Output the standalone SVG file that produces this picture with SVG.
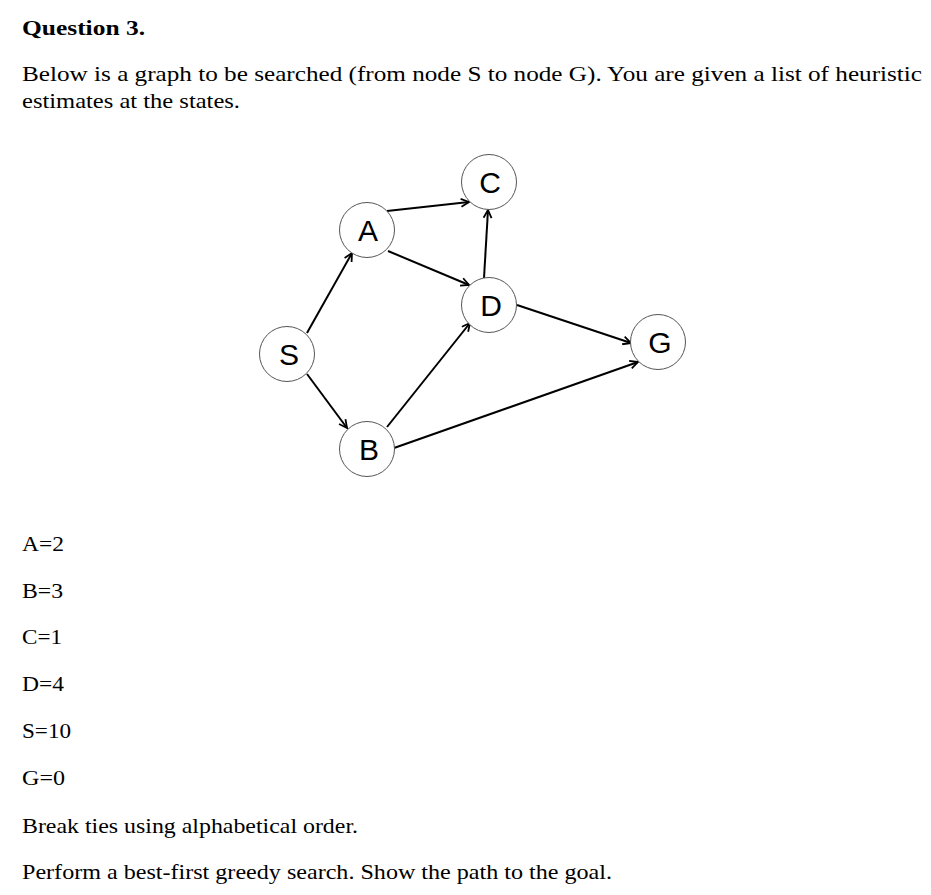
<svg xmlns="http://www.w3.org/2000/svg" width="931" height="895" viewBox="0 0 931 895">
<style>
.t{font-family:"Liberation Serif","Times New Roman",serif;font-size:21px;fill:#000}
.b{font-weight:bold}
.node circle{fill:#fff;stroke:#555;stroke-width:1}
.node text{font-family:"Liberation Sans",Arial,sans-serif;font-size:30px;fill:#000;text-anchor:middle}
.edge{stroke:#000;stroke-width:2;fill:none;marker-end:url(#arr)}
</style>
<defs>
<marker id="arr" viewBox="0 0 10 10" refX="9" refY="5" markerWidth="5" markerHeight="5" markerUnits="strokeWidth" orient="auto">
<path d="M1,1 L9,5 L1,9" fill="none" stroke="#000" stroke-width="1.8"/>
</marker>
</defs>
<rect width="931" height="895" fill="#fff"/>
<text class="t b" x="22" y="35" textLength="123" lengthAdjust="spacingAndGlyphs">Question 3.</text>
<text class="t" x="22" y="81" textLength="900" lengthAdjust="spacingAndGlyphs">Below is a graph to be searched (from node S to node G). You are given a list of heuristic</text>
<text class="t" x="22" y="108" textLength="218" lengthAdjust="spacingAndGlyphs">estimates at the states.</text>
<g id="connectors">
<line class="edge" x1="387" y1="211" x2="469" y2="202"/>
<line class="edge" x1="388" y1="251" x2="469" y2="285"/>
<line class="edge" x1="484" y1="278" x2="488" y2="210"/>
<line class="edge" x1="307" y1="333" x2="352" y2="253"/>
<line class="edge" x1="307" y1="374" x2="347" y2="428"/>
<line class="edge" x1="387" y1="427" x2="470" y2="323"/>
<line class="edge" x1="517" y1="305" x2="631" y2="343"/>
<line class="edge" x1="394" y1="448" x2="638" y2="362"/>
</g>
<g id="node-C" class="node"><circle cx="489" cy="182" r="27.5"/><text x="490" y="193">C</text></g>
<g id="node-A" class="node"><circle cx="367" cy="230" r="27.5"/><text x="368" y="241">A</text></g>
<g id="node-D" class="node"><circle cx="489" cy="305" r="27.5"/><text x="491" y="316">D</text></g>
<g id="node-S" class="node"><circle cx="287" cy="354" r="27.5"/><text x="289" y="365">S</text></g>
<g id="node-B" class="node"><circle cx="367" cy="449" r="27.5"/><text x="369" y="460">B</text></g>
<g id="node-G" class="node"><circle cx="658" cy="342" r="27.5"/><text x="660" y="353">G</text></g>
<text class="t" x="22" y="551" textLength="42" lengthAdjust="spacingAndGlyphs">A=2</text>
<text class="t" x="22" y="598" textLength="41" lengthAdjust="spacingAndGlyphs">B=3</text>
<text class="t" x="22" y="644" textLength="40" lengthAdjust="spacingAndGlyphs">C=1</text>
<text class="t" x="22" y="691" textLength="42" lengthAdjust="spacingAndGlyphs">D=4</text>
<text class="t" x="22" y="738" textLength="49" lengthAdjust="spacingAndGlyphs">S=10</text>
<text class="t" x="22" y="785" textLength="43" lengthAdjust="spacingAndGlyphs">G=0</text>
<text class="t" x="22" y="833" textLength="336" lengthAdjust="spacingAndGlyphs">Break ties using alphabetical order.</text>
<text class="t" x="22" y="879" textLength="590" lengthAdjust="spacingAndGlyphs">Perform a best-first greedy search. Show the path to the goal.</text>
</svg>
